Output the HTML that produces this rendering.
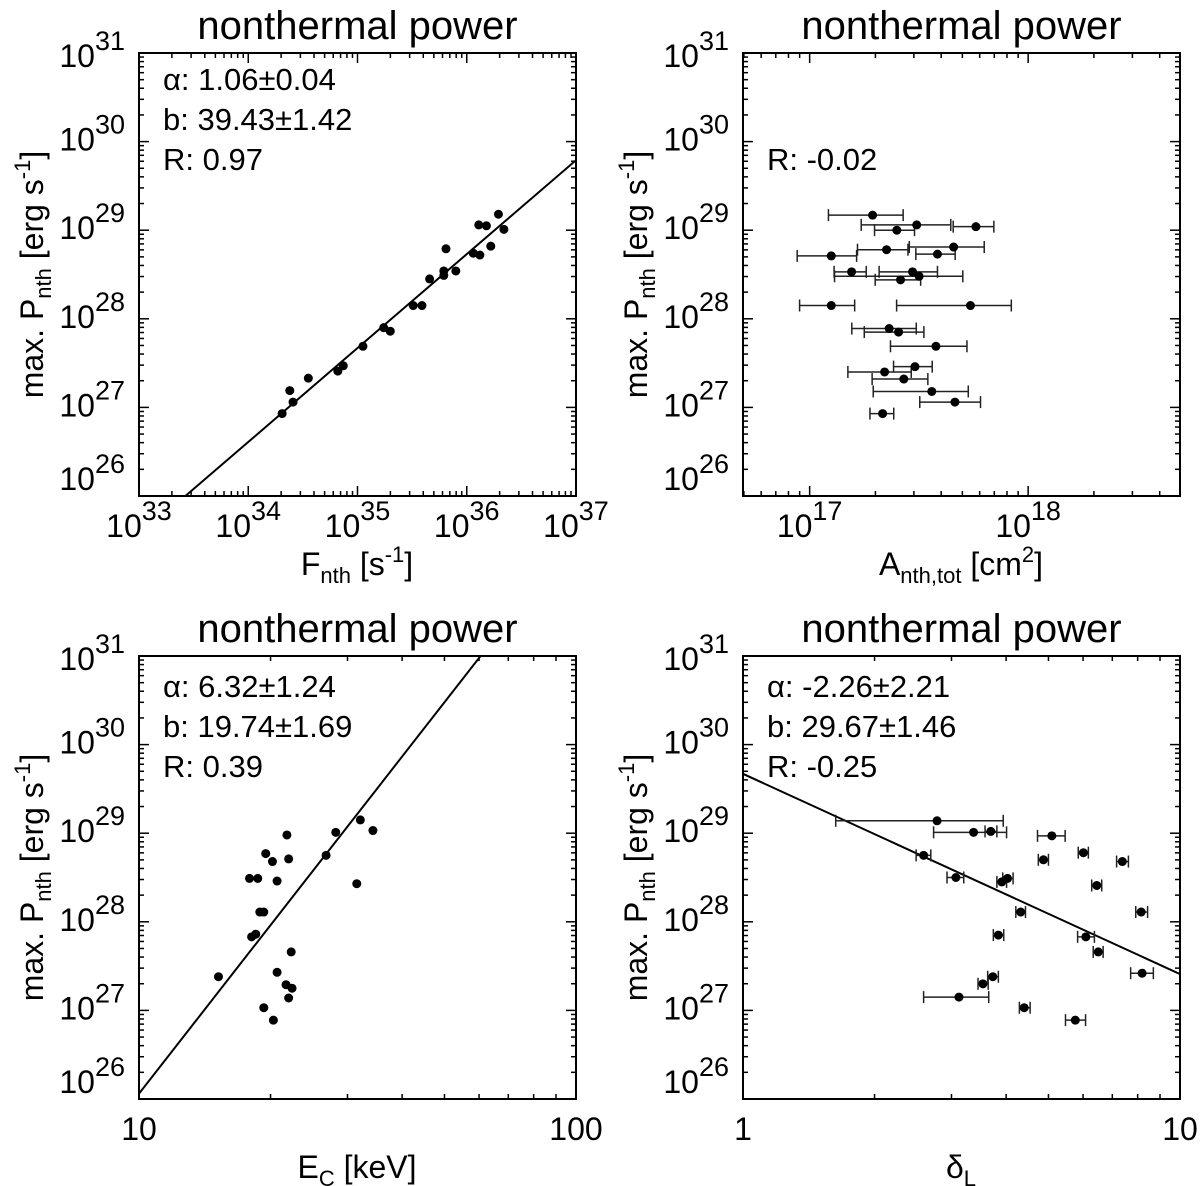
<!DOCTYPE html>
<html><head><meta charset="utf-8"><style>
html,body{margin:0;padding:0;background:#fff;}
svg{display:block;font-family:"Liberation Sans",Arial,sans-serif;}
</style></head><body>
<svg id="fig" xmlns="http://www.w3.org/2000/svg" width="1200" height="1186" viewBox="0 0 1200 1186"></svg>
<script>
// ---- Panel 1: F_nth vs P_nth (log10 values)
const tlLogF = [34.31,34.38,34.41,34.55,34.82,34.87,35.05,35.24,35.30,35.51,35.59,35.66,35.79,35.79,35.81,35.90,36.06,36.12,36.11,36.18,36.22,36.29,36.34];
const tlLogP = [26.93,27.19,27.06,27.33,27.41,27.47,27.69,27.90,27.86,28.15,28.15,28.45,28.49,28.54,28.79,28.54,28.74,28.72,29.06,29.05,28.82,29.18,29.01];
const tlFit = [1.06, -9.43];
// ---- Panel 2: A_nth,tot vs P_nth (log10 values, with x error range)
const trLogA   = [17.288,17.49,17.761,17.399,17.352,17.659,17.585,17.099,17.192,17.471,17.501,17.416,17.099,17.736,17.364,17.407,17.578,17.482,17.343,17.431,17.559,17.665,17.334];
const trLogALo = [17.086,17.236,17.657,17.297,17.219,17.456,17.486,16.943,17.112,17.318,17.114,17.30,16.954,17.398,17.193,17.25,17.37,17.384,17.175,17.286,17.291,17.504,17.276];
const trLogAHi = [17.428,17.646,17.843,17.48,17.45,17.799,17.666,17.215,17.259,17.585,17.701,17.508,17.206,17.923,17.488,17.523,17.72,17.561,17.465,17.541,17.726,17.782,17.385];
const trLogP   = [29.17,29.06,29.04,29.00,28.78,28.81,28.73,28.71,28.53,28.53,28.48,28.44,28.15,28.15,27.89,27.85,27.69,27.46,27.40,27.32,27.18,27.06,26.93];
// ---- Panel 3: E_C [keV] vs P_nth
const blEc   = [15.2,17.9,18.7,18.1,18.5,18.9,19.3,19.5,19.3,20.2,20.3,20.7,20.7,21.7,21.8,22.0,22.0,22.3,22.4,26.8,28.2,31.5,32.1,34.3];
const blLogP = [27.38,28.49,28.49,27.83,27.86,28.11,28.11,28.77,27.03,28.68,26.89,28.46,27.43,27.29,28.98,28.71,27.14,27.66,27.25,28.75,29.01,28.43,29.15,29.03];
const blFit = [6.32, 19.74];
// ---- Panel 4: delta_L vs P_nth
const brDelta   = [2.78,3.37,3.69,5.09,2.59,6.01,4.87,7.38,3.07,3.91,4.03,6.45,8.15,4.32,3.84,6.09,6.50,8.19,3.73,3.54,3.12,4.40,5.76];
const brDeltaLo = [1.63,2.73,3.58,4.72,2.49,5.85,4.74,7.16,2.93,3.81,3.93,6.28,7.92,4.21,3.74,5.83,6.33,7.71,3.63,3.45,2.59,4.29,5.47];
const brDeltaHi = [3.94,4.01,3.81,5.46,2.69,6.17,5.00,7.62,3.20,4.01,4.15,6.62,8.43,4.43,3.95,6.37,6.67,8.69,3.84,3.64,3.65,4.54,6.08];
const brLogP    = [29.14,29.01,29.02,28.97,28.75,28.78,28.70,28.68,28.50,28.45,28.49,28.41,28.11,28.11,27.85,27.83,27.66,27.42,27.38,27.30,27.15,27.03,26.89];
const brLogPErr = [0,0,0.04,0,0.03,0.04,0.04,0.04,0.03,0.04,0.04,0.04,0.03,0.04,0.04,0.03,0.03,0,0.04,0.04,0,0.04,0];
const brFit = [-2.26, 29.67];

const NS = "http://www.w3.org/2000/svg";
const svg = document.getElementById('fig');
function mk(tag, attrs, parent) {
  const e = document.createElementNS(NS, tag);
  for (const k in attrs) e.setAttribute(k, attrs[k]);
  (parent || svg).appendChild(e);
  return e;
}
const W = 437, H = 443;

function makePanel(name, ox, oy, x0, x1, xLabels) {
  const g = mk('g', {});
  
  
  const y0 = 26, y1 = 31;
  const X = l => ox + (l - x0) / (x1 - x0) * W;
  const Y = l => oy + H - (l - y0) / (y1 - y0) * H;
  const t = mk('text', {x: ox + W/2, y: oy - 14, 'font-size': 40, 'text-anchor': 'middle'}, g);
  t.textContent = 'nonthermal power';
  
  
  const fr = mk('rect', {x: ox, y: oy, width: W, height: H, fill: 'none', stroke: '#000', 'stroke-width': 2}, g);
  
  
  const tg = mk('g', {stroke: '#000', 'stroke-width': 1.5}, g);
  
  
  for (let d = Math.floor(x0); d <= Math.ceil(x1); d++) {
    for (let m = 1; m <= 9; m++) {
      const l = d + Math.log10(m);
      if (l < x0 - 1e-6 || l > x1 + 1e-6) continue;
      const len = m === 1 ? 10 : 5, x = X(l);
      mk('line', {x1: x, x2: x, y1: oy + H, y2: oy + H - len}, tg);
      mk('line', {x1: x, x2: x, y1: oy, y2: oy + len}, tg);
    }
  }
  for (let d = y0; d <= y1; d++) {
    for (let m = 1; m <= 9; m++) {
      const l = d + Math.log10(m);
      if (l > y1 + 1e-6) continue;
      const len = m === 1 ? 10 : 5, y = Y(l);
      mk('line', {x1: ox, x2: ox + len, y1: y, y2: y}, tg);
      mk('line', {x1: ox + W, x2: ox + W - len, y1: y, y2: y}, tg);
    }
  }
  for (let d = y0; d <= y1; d++) {
    let by = Y(d) + 9;
    if (by < oy + 14) by = oy + 14;
    if (by > oy + H - 6) by = oy + H - 6;
    const tx = mk('text', {x: ox - 14, y: by, 'font-size': 32, 'text-anchor': 'end'}, g);
    
    
    tx.innerHTML = '10<tspan dy="-17" font-size="27">' + d + '</tspan>';
  }
  xLabels.forEach(lb => {
    const tx = mk('text', {x: X(lb.l), y: oy + H + 41, 'font-size': 32, 'text-anchor': 'middle'}, g);
    
    
    tx.innerHTML = lb.html;
  });
  const yt = mk('text', {x: 0, y: 0, 'font-size': 32, 'text-anchor': 'middle', transform: 'translate(' + (ox - 96) + ',' + (oy + H/2) + ') rotate(-90)'}, g);
  
  
  yt.innerHTML = 'max. P<tspan font-size="22" dy="8">nth</tspan><tspan dy="-8"> [erg s</tspan><tspan font-size="22" dy="-13">-1</tspan><tspan dy="13">]</tspan>';
  return {g, X, Y};
}

function dot(p, x, y, parent) {
  const c = mk('circle', {cx: x, cy: y, r: 4.5, fill: '#000'}, parent);
  
  
}
function xTitle(g, cx, y, html) {
  const t = mk('text', {x: cx, y: y, 'font-size': 32, 'text-anchor': 'middle'}, g);
  
  
  t.innerHTML = html;
}
function annot(g, x, y, html) {
  const t = mk('text', {x: x, y: y, 'font-size': 31}, g);
  
  
  t.innerHTML = html;
}
function fitLine(g, p, xa, xb, slope, icpt, ox, oy) {
  const cp = mk('clipPath', {id: 'c' + ox + oy}, g);
  mk('rect', {x: ox, y: oy, width: W, height: H}, cp);
  const ln = mk('line', {x1: p.X(xa), y1: p.Y(slope * xa + icpt), x2: p.X(xb), y2: p.Y(slope * xb + icpt), stroke: '#000', 'stroke-width': 2, 'clip-path': 'url(#c' + ox + oy + ')'}, g);
  
  
}
function sup(b, e) { return b + '<tspan dy="-17" font-size="27">' + e + '</tspan>'; }

const p1 = makePanel('panel-flux', 139, 53, 33, 37, [33,34,35,36,37].map(d => ({l: d, html: sup('10', d)})));
fitLine(p1.g, p1, 33, 37, tlFit[0], tlFit[1], 139, 53);
tlLogF.forEach((v, i) => dot(p1, p1.X(v), p1.Y(tlLogP[i]), p1.g));
annot(p1.g, 163, 90, 'α: 1.06±0.04');
annot(p1.g, 163, 130, 'b: 39.43±1.42');
annot(p1.g, 163, 170, 'R: 0.97');
xTitle(p1.g, 357, 575, 'F<tspan font-size="22" dy="8">nth</tspan><tspan dy="-8"> [s</tspan><tspan font-size="22" dy="-13">-1</tspan><tspan dy="13">]</tspan>');

const p2 = makePanel('panel-area', 743, 53, 16.695, 18.695, [17,18].map(d => ({l: d, html: sup('10', d)})));
const eg = mk('g', {stroke: '#222', 'stroke-width': 1.5}, p2.g);


trLogA.forEach((v, i) => {
  const y = p2.Y(trLogP[i]), xl = p2.X(trLogALo[i]), xh = p2.X(trLogAHi[i]);
  mk('line', {x1: xl, x2: xh, y1: y, y2: y}, eg);
  mk('line', {x1: xl, x2: xl, y1: y - 6, y2: y + 6}, eg);
  mk('line', {x1: xh, x2: xh, y1: y - 6, y2: y + 6}, eg);
});
trLogA.forEach((v, i) => dot(p2, p2.X(v), p2.Y(trLogP[i]), p2.g));
annot(p2.g, 767, 170, 'R: -0.02');
xTitle(p2.g, 961, 575, 'A<tspan font-size="22" dy="8">nth,tot</tspan><tspan dy="-8"> [cm</tspan><tspan font-size="22" dy="-13">2</tspan><tspan dy="13">]</tspan>');

const p3 = makePanel('panel-cutoff', 139, 656, 1, 2, [{l: 1, html: '10'}, {l: 2, html: '100'}]);
fitLine(p3.g, p3, 1, 2, blFit[0], blFit[1], 139, 656);
blEc.forEach((v, i) => dot(p3, p3.X(Math.log10(v)), p3.Y(blLogP[i]), p3.g));
annot(p3.g, 163, 697, 'α: 6.32±1.24');
annot(p3.g, 163, 737, 'b: 19.74±1.69');
annot(p3.g, 163, 777, 'R: 0.39');
xTitle(p3.g, 357, 1178, 'E<tspan font-size="22" dy="8">C</tspan><tspan dy="-8"> [keV]</tspan>');

const p4 = makePanel('panel-delta', 743, 656, 0, 1, [{l: 0, html: '1'}, {l: 1, html: '10'}]);
fitLine(p4.g, p4, 0, 1, brFit[0], brFit[1], 743, 656);
const eg4 = mk('g', {stroke: '#222', 'stroke-width': 1.5}, p4.g);


brDelta.forEach((v, i) => {
  const y = p4.Y(brLogP[i]), xl = p4.X(Math.log10(brDeltaLo[i])), xh = p4.X(Math.log10(brDeltaHi[i]));
  mk('line', {x1: xl, x2: xh, y1: y, y2: y}, eg4);
  mk('line', {x1: xl, x2: xl, y1: y - 6, y2: y + 6}, eg4);
  mk('line', {x1: xh, x2: xh, y1: y - 6, y2: y + 6}, eg4);
  if (brLogPErr[i] > 0) {
    const x = p4.X(Math.log10(v));
    mk('line', {x1: x, x2: x, y1: p4.Y(brLogP[i] + brLogPErr[i]), y2: p4.Y(brLogP[i] - brLogPErr[i])}, eg4);
  }
});
brDelta.forEach((v, i) => dot(p4, p4.X(Math.log10(v)), p4.Y(brLogP[i]), p4.g));
annot(p4.g, 767, 697, 'α: -2.26±2.21');
annot(p4.g, 767, 737, 'b: 29.67±1.46');
annot(p4.g, 767, 777, 'R: -0.25');
xTitle(p4.g, 961, 1178, 'δ<tspan font-size="22" dy="8">L</tspan>');
</script>
</body></html>
